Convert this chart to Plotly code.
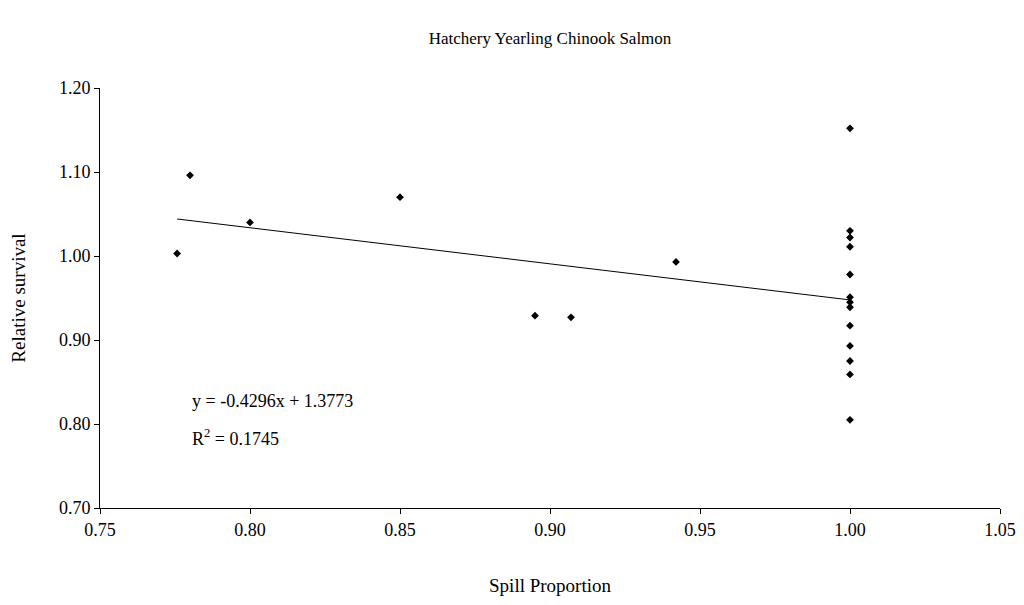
import plotly.graph_objects as go
import numpy as np

spill = [0.7757, 0.780, 0.800, 0.850, 0.895, 0.907, 0.942,
         1.0, 1.0, 1.0, 1.0, 1.0, 1.0, 1.0, 1.0, 1.0, 1.0, 1.0, 1.0, 1.0]
survival = [1.003, 1.096, 1.040, 1.070, 0.929, 0.927, 0.993,
            1.152, 1.030, 1.022, 1.011, 0.978, 0.951, 0.945, 0.939, 0.917, 0.893, 0.875, 0.859, 0.805]
slope, intercept = -0.4296, 1.3773

fx = np.array([min(spill), max(spill)])
fy = slope * fx + intercept

font = dict(family="Liberation Serif, Times New Roman, serif", color="black", size=17)
tfont = dict(family="Liberation Serif, Times New Roman, serif", color="black", size=18)
afont = dict(family="Liberation Serif, Times New Roman, serif", color="black", size=19)
fig = go.Figure()
fig.add_trace(go.Scatter(x=fx, y=fy, mode="lines", line=dict(color="black", width=1), hoverinfo="skip"))
fig.add_trace(go.Scatter(x=spill, y=survival, mode="markers",
                         marker=dict(symbol="diamond", size=6, color="black")))
fig.add_annotation(x=0.78, y=0.813, xref="x", yref="y", xanchor="left", yanchor="bottom",
                   text="y = -0.4296x + 1.3773", showarrow=False, font=tfont)
fig.add_annotation(x=0.78, y=0.768, xref="x", yref="y", xanchor="left", yanchor="bottom",
                   text="R<sup>2</sup> = 0.1745", showarrow=False, font=tfont)
fig.update_layout(
    width=1010, height=590, showlegend=False,
    paper_bgcolor="white", plot_bgcolor="white", font=font,
    title=dict(text="Hatchery Yearling Chinook Salmon", x=0.5, xref="paper", y=0.96, yref="container",
               xanchor="center", automargin=False, font=font),
    margin=dict(l=92, r=18, t=80, b=90, autoexpand=False),
    xaxis=dict(range=[0.75, 1.05], dtick=0.05, tickformat=".2f", showgrid=False, zeroline=False,
               automargin=False, tickfont=tfont,
               showline=True, linecolor="black", ticks="outside", ticklen=5, tickcolor="black",
               title=dict(text="Spill Proportion", standoff=40, font=afont)),
    yaxis=dict(range=[0.70, 1.20], dtick=0.10, tickformat=".2f", showgrid=False, zeroline=False,
               automargin=False, tickfont=tfont,
               showline=True, linecolor="black", ticks="outside", ticklen=5, tickcolor="black",
               title=dict(text="Relative survival", standoff=28, font=afont)),
)
fig.write_html("out.html")
